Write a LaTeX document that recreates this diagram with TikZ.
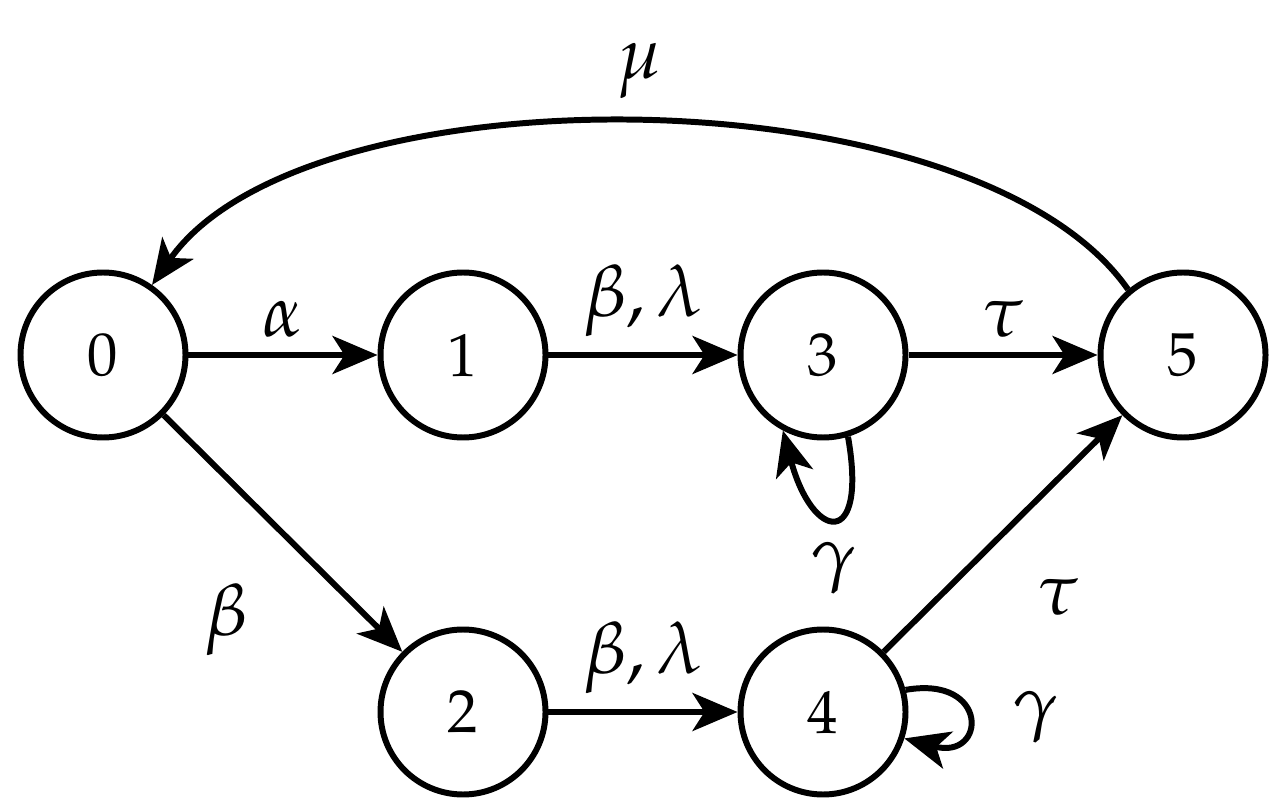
\documentclass[tikz,border=0pt]{standalone}
\usepackage{amsmath}
\usepackage{amssymb}
\usepackage{mathpazo}
\usetikzlibrary{arrows.meta}

\begin{document}
\begin{tikzpicture}[node distance=3.6cm,line width=1.7pt,>={Stealth[length=4.5mm,width=3.8mm,inset=1.2mm]}]
  \tikzstyle{normal}=[draw,circle,minimum size=16.5mm,inner sep=0pt,font=\LARGE]
  \tikzstyle{lbl}=[font=\huge]

  \useasboundingbox (0,0) rectangle (12.85,-8.12);

  \node[normal] (q0) at (1.03,-3.55) {$0$};
  \node[normal] (q1) [right of=q0]   {$1$};
  \node[normal] (q3) [right of=q1]   {$3$};
  \node[normal] (q5) [right of=q3]   {$5$};
  \node[normal] (q2) [below of=q1,yshift=0.03cm] {$2$};
  \node[normal] (q4) [right of=q2]   {$4$};

  \draw[->] (q0) to node[lbl,above,yshift=1pt] {$\alpha$} (q1);
  \draw[->] (q1) to node[lbl,above,yshift=1pt] {$\beta,\lambda$} (q3);
  \draw[->] (q3) to node[lbl,above,yshift=1pt] {$\tau$} (q5);
  \draw[->] (q0) to node[lbl,below left,xshift=-2mm,yshift=-3.5mm] {$\beta$} (q2);
  \draw[->] (q2) to node[lbl,above,yshift=1pt] {$\beta,\lambda$} (q4);
  \draw[->] (q4) to node[lbl,below right,xshift=2mm,yshift=-3mm] {$\tau$} (q5);

  \draw[->] (q5.130) to[out=125,in=55,looseness=0.7] node[lbl,above,yshift=1mm] {$\mu$} (q0.55);

  \draw[->] (q3.-73) to[out=-80,in=-75,looseness=4.5] node[lbl,below,yshift=-1mm] {$\gamma$} (q3.-118);
  \draw[->] (q4.15) to[out=10,in=-15,looseness=4.5] node[lbl,right,xshift=3mm] {$\gamma$} (q4.-18);

\end{tikzpicture}
\end{document}
